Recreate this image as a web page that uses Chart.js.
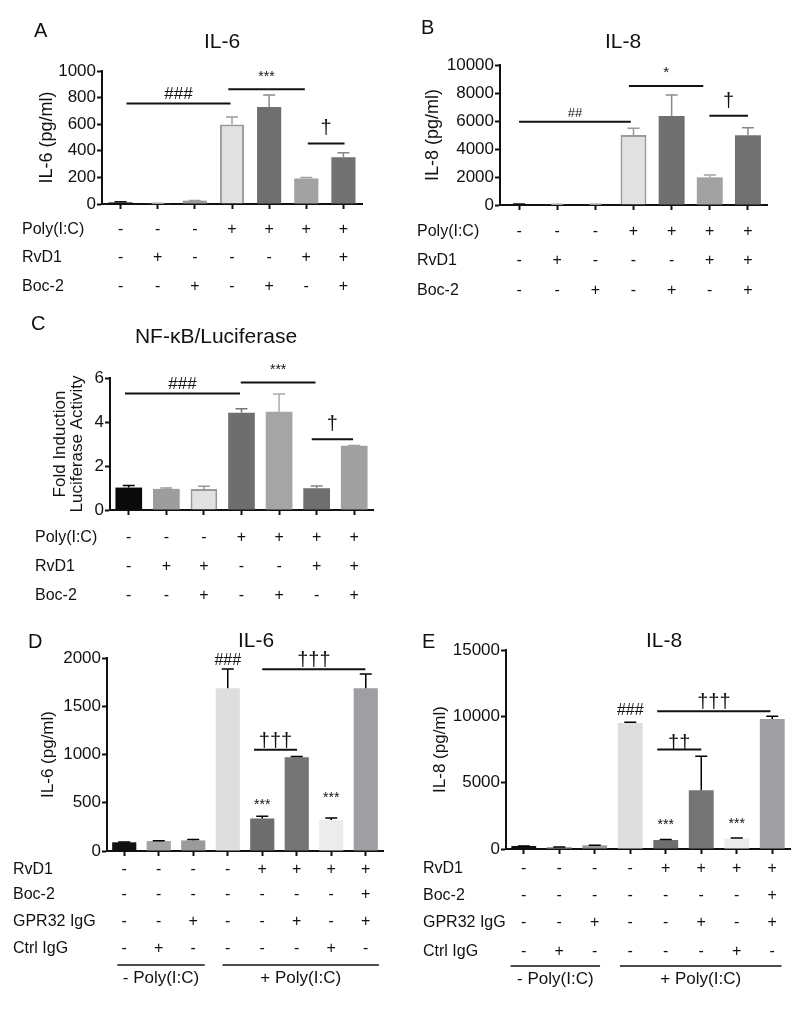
<!DOCTYPE html>
<html>
<head>
<meta charset="utf-8">
<script src="https://cdn.jsdelivr.net/npm/chart.js@4.4.1/dist/chart.umd.min.js"></script>
<style>
  body { margin: 0; background: #fff; }
  #page { position: relative; width: 800px; height: 1011px; }
  .panel { position: absolute; }
</style>
</head>
<body>
<div id="page"></div>
<script>
const FONT = '"Liberation Sans", Arial, Helvetica, sans-serif';

// --- data ---
const groups7 = ['1', '2', '3', '4', '5', '6', '7'];
const groups8 = ['1', '2', '3', '4', '5', '6', '7', '8'];

const il6A = [12, 5, 25, 597, 730, 192, 352];
const il6AErr = [17, 6, 27, 655, 820, 200, 385];
const il8B = [70, 40, 40, 5000, 6357, 1976, 4976];
const il8BErr = [80, 45, 45, 5476, 7857, 2143, 5524];
const nfkbC = [1.02, 0.96, 0.96, 4.42, 4.47, 0.99, 2.92];
const nfkbCErr = [1.11, 1.0, 1.08, 4.6, 5.27, 1.09, 2.93];
const il6D = [90, 103, 110, 1687, 337, 971, 320, 1687];
const il6DErr = [92, 106, 120, 1886, 361, 978, 341, 1835];
const il8E = [225, 150, 275, 9500, 675, 4425, 800, 9800];
const il8EErr = [235, 160, 290, 9550, 725, 7000, 825, 10000];

const yTicksA = [0, 200, 400, 600, 800, 1000];
const yTicksB = [0, 2000, 4000, 6000, 8000, 10000];
const yTicksC = [0, 2, 4, 6];
const yTicksD = [0, 500, 1000, 1500, 2000];
const yTicksE = [0, 5000, 10000, 15000];

// treatment tables under the bars
const rowLabelsABC = ['Poly(I:C)', 'RvD1', 'Boc-2'];
const rowsAB = [
  ['-', '-', '-', '+', '+', '+', '+'],
  ['-', '+', '-', '-', '-', '+', '+'],
  ['-', '-', '+', '-', '+', '-', '+']
];
const rowsC = [
  ['-', '-', '-', '+', '+', '+', '+'],
  ['-', '+', '+', '-', '-', '+', '+'],
  ['-', '-', '+', '-', '+', '-', '+']
];
const rowLabelsDE = ['RvD1', 'Boc-2', 'GPR32 IgG', 'Ctrl IgG'];
const rowsDE = [
  ['-', '-', '-', '-', '+', '+', '+', '+'],
  ['-', '-', '-', '-', '-', '-', '-', '+'],
  ['-', '-', '+', '-', '-', '+', '-', '+'],
  ['-', '+', '-', '-', '-', '-', '+', '-']
];
const polyGroupLabels = ['- Poly(I:C)', '+ Poly(I:C)'];
const polyGroupsD = [[-0.2, 2.33], [2.85, 7.38]];
const polyGroupsE = [[-0.37, 2.15], [2.71, 7.26]];

// significance bars (category index range, y in data units)
const sigA = [
  { text: '###', from: 0.16, to: 2.96, y: 755 },
  { text: '***', from: 2.9, to: 4.96, y: 862 },
  { text: '†', from: 5.04, to: 6.03, y: 455 }
];
const sigB = [
  { text: '##', from: 0, to: 2.93, y: 5952 },
  { text: '*', from: 2.88, to: 4.83, y: 8500 },
  { text: '†', from: 4.99, to: 6.0, y: 6381 }
];
const sigC = [
  { text: '###', from: -0.1, to: 2.96, y: 5.29 },
  { text: '***', from: 2.98, to: 4.97, y: 5.8 },
  { text: '†', from: 4.87, to: 5.97, y: 3.22 }
];
const sigD = [
  { text: '†††', from: 4.0, to: 6.99, y: 1883 },
  { text: '†††', from: 3.76, to: 5.01, y: 1050 }
];
const marksD = [
  { text: '###', at: 3, y: 1927 },
  { text: '***', at: 4, y: 435 },
  { text: '***', at: 6, y: 508 }
];
const sigE = [
  { text: '†††', from: 3.76, to: 6.95, y: 10375 },
  { text: '††', from: 3.76, to: 5.0, y: 7500 }
];
const marksE = [
  { text: '###', at: 3, y: 10100 },
  { text: '***', at: 4, y: 1507 },
  { text: '***', at: 6, y: 1550 }
];

// --- styles ---
const fillAB = ['#141414', '#a6a6a6', '#9b9b9b', '#e1e1e1', '#6f6f6f', '#a2a2a2', '#717171'];
const lineAB = ['#141414', '#a6a6a6', '#9b9b9b', '#9a9a9a', '#6f6f6f', '#a2a2a2', '#717171'];
const errAB = ['#141414', '#a6a6a6', '#9b9b9b', '#9a9a9a', '#8a8a8a', '#a2a2a2', '#888888'];
const bwAB = [0, 0, 0, 2, 0, 0, 0];
const fillC = ['#0a0a0a', '#9d9d9d', '#e1e1e1', '#6e6e6e', '#a5a5a5', '#6f6f6f', '#a0a0a0'];
const lineC = ['#0a0a0a', '#9d9d9d', '#999999', '#6e6e6e', '#a5a5a5', '#6f6f6f', '#a0a0a0'];
const errC = ['#000000', '#999999', '#999999', '#777777', '#aaaaaa', '#888888', '#a0a0a0'];
const bwC = [0, 0, 2, 0, 0, 0, 0];
const fillDE = ['#111111', '#a3a3a3', '#9a9a9a', '#dedede', '#6e6e6e', '#747474', '#ececec', '#9e9ea3'];
const errDE = Array(8).fill('#000000');
const bwDE = Array(8).fill(0);

const symStyleABC = {
  '###': { size: 17, gap: 5 }, '##': { size: 13, gap: 5 },
  '***': { size: 14, gap: 8 }, '*': { size: 15, gap: 9 }, '†': { size: 20, gap: 9 }
};
const symStyleDE = {
  '###': { size: 16, gap: 0 }, '***': { size: 14, gap: 0 },
  '†††': { size: 20, gap: 3 }, '††': { size: 20, gap: 1 }
};

function font(size) { return size + 'px ' + FONT; }

function makePanel(p) {
  const box = document.createElement('div');
  box.className = 'panel';
  box.style.left = p.box.x + 'px';
  box.style.top = p.box.y + 'px';
  box.style.width = p.box.w + 'px';
  box.style.height = p.box.h + 'px';
  const cv = document.createElement('canvas');
  box.appendChild(cv);
  document.getElementById('page').appendChild(box);

  const lh = p.yTitleSize * p.yTitleLine;
  const padLeft = p.yTitleX - p.box.x - lh / 2;
  const yWidth = p.area.L - p.box.x - padLeft;
  const xHeight = 6;

  const overlay = {
    id: 'overlay',
    afterDatasetsDraw(chart) {
      const ctx = chart.ctx, ys = chart.scales.y;
      ctx.save();
      ctx.lineWidth = 1.5;
      chart.getDatasetMeta(0).data.forEach((bar, i) => {
        const top = ys.getPixelForValue(p.values[i]);
        const end = ys.getPixelForValue(p.errors[i]);
        ctx.strokeStyle = p.errColors[i];
        ctx.beginPath();
        ctx.moveTo(bar.x, top);
        ctx.lineTo(bar.x, end);
        ctx.moveTo(bar.x - 6, end);
        ctx.lineTo(bar.x + 6, end);
        ctx.stroke();
      });
      ctx.restore();
    },
    afterDraw(chart) {
      const ctx = chart.ctx, xs = chart.scales.x, ys = chart.scales.y;
      const bottom = chart.chartArea.bottom;
      ctx.save();
      ctx.fillStyle = '#111';
      ctx.strokeStyle = '#111';

      // panel letter and title
      ctx.textBaseline = 'alphabetic';
      ctx.textAlign = 'left';
      ctx.font = font(20);
      ctx.fillText(p.letter, p.letterPos[0] - p.box.x, p.letterPos[1] - p.box.y);
      ctx.textAlign = 'center';
      ctx.font = font(21);
      ctx.fillText(p.title, p.titlePos[0] - p.box.x, p.titlePos[1] - p.box.y);

      // significance lines
      ctx.lineWidth = 2;
      p.sig.forEach(s => {
        const x0 = xs.getPixelForValue(s.from), x1 = xs.getPixelForValue(s.to);
        const y = ys.getPixelForValue(s.y);
        ctx.beginPath();
        ctx.moveTo(x0, y);
        ctx.lineTo(x1, y);
        ctx.stroke();
        const st = p.symStyle[s.text];
        ctx.font = font(st.size);
        ctx.fillText(s.text, (x0 + x1) / 2, y - st.gap);
      });
      (p.marks || []).forEach(m => {
        const st = p.symStyle[m.text];
        ctx.font = font(st.size);
        ctx.fillText(m.text, xs.getPixelForValue(m.at), ys.getPixelForValue(m.y));
      });

      // treatment table
      ctx.font = font(16);
      ctx.textBaseline = 'middle';
      p.rowLabels.forEach((label, r) => {
        const y = bottom + p.rowOffsets[r];
        ctx.textAlign = 'left';
        ctx.fillText(label, p.rowLabelX - p.box.x, y);
        ctx.textAlign = 'center';
        p.rows[r].forEach((sym, i) => ctx.fillText(sym, xs.getPixelForValue(i), y));
      });

      // - / + Poly(I:C) brackets
      if (p.groups) {
        ctx.lineWidth = 1.5;
        ctx.font = font(17);
        p.groups.forEach((g, k) => {
          const x0 = xs.getPixelForValue(g[0]), x1 = xs.getPixelForValue(g[1]);
          const y = bottom + p.groupLine;
          ctx.beginPath();
          ctx.moveTo(x0, y);
          ctx.lineTo(x1, y);
          ctx.stroke();
          ctx.fillText(polyGroupLabels[k], (x0 + x1) / 2, bottom + p.groupText);
        });
      }
      ctx.restore();
    }
  };

  return new Chart(cv, {
    type: 'bar',
    data: {
      labels: p.labels,
      datasets: [{
        data: p.values,
        backgroundColor: p.fill,
        borderColor: p.line || p.fill,
        borderWidth: p.bw,
        barPercentage: p.barPct,
        categoryPercentage: 1
      }]
    },
    options: {
      responsive: true,
      maintainAspectRatio: false,
      animation: false,
      devicePixelRatio: 1,
      layout: {
        padding: {
          left: padLeft,
          top: p.area.T - p.box.y,
          right: p.box.x + p.box.w - p.area.R,
          bottom: p.box.y + p.box.h - p.area.B - xHeight
        }
      },
      plugins: { legend: { display: false }, tooltip: { enabled: false } },
      scales: {
        x: {
          offset: true,
          afterFit: s => { s.height = xHeight; },
          border: { color: '#111', width: 2 },
          grid: { offset: false, drawOnChartArea: false, tickLength: 5, tickColor: '#111', tickWidth: 2 },
          ticks: { display: false }
        },
        y: {
          min: 0,
          max: p.yTicks[p.yTicks.length - 1],
          afterBuildTicks: s => { s.ticks = p.yTicks.map(v => ({ value: v })); },
          afterFit: s => { s.width = yWidth; },
          border: { color: '#111', width: 2 },
          grid: { drawOnChartArea: false, tickLength: 5, tickColor: '#111', tickWidth: 2 },
          ticks: { color: '#111', font: { size: 17, family: FONT }, padding: 1, callback: v => String(v) },
          title: {
            display: true,
            text: p.yTitle,
            color: '#111',
            padding: 0,
            font: { size: p.yTitleSize, family: FONT, lineHeight: p.yTitleLine }
          }
        }
      }
    },
    plugins: [overlay]
  });
}

makePanel({
  box: { x: 0, y: 0, w: 400, h: 305 }, area: { L: 102, T: 71, R: 362, B: 204 },
  labels: groups7, values: il6A, errors: il6AErr, yTicks: yTicksA,
  fill: fillAB, line: lineAB, bw: bwAB, errColors: errAB, barPct: 0.65,
  yTitle: 'IL-6 (pg/ml)', yTitleSize: 18, yTitleLine: 1.1, yTitleX: 47,
  letter: 'A', letterPos: [34, 37], title: 'IL-6', titlePos: [222, 48],
  sig: sigA, symStyle: symStyleABC,
  rowLabels: rowLabelsABC, rows: rowsAB, rowLabelX: 22, rowOffsets: [26, 54, 83]
});

makePanel({
  box: { x: 400, y: 0, w: 400, h: 305 }, area: { L: 500, T: 65, R: 767, B: 205 },
  labels: groups7, values: il8B, errors: il8BErr, yTicks: yTicksB,
  fill: fillAB, line: lineAB, bw: bwAB, errColors: errAB, barPct: 0.68,
  yTitle: 'IL-8 (pg/ml)', yTitleSize: 18, yTitleLine: 1.1, yTitleX: 433,
  letter: 'B', letterPos: [421, 34], title: 'IL-8', titlePos: [623, 48],
  sig: sigB, symStyle: symStyleABC,
  rowLabels: rowLabelsABC, rows: rowsAB, rowLabelX: 417, rowOffsets: [27, 56, 86]
});

makePanel({
  box: { x: 0, y: 310, w: 400, h: 300 }, area: { L: 110, T: 378, R: 373, B: 510 },
  labels: groups7, values: nfkbC, errors: nfkbCErr, yTicks: yTicksC,
  fill: fillC, line: lineC, bw: bwC, errColors: errC, barPct: 0.71,
  yTitle: ['Fold Induction', 'Luciferase Activity'], yTitleSize: 17, yTitleLine: 1.0, yTitleX: 60,
  letter: 'C', letterPos: [31, 330], title: 'NF-κB/Luciferase', titlePos: [216, 343],
  sig: sigC, symStyle: symStyleABC,
  rowLabels: rowLabelsABC, rows: rowsC, rowLabelX: 35, rowOffsets: [28, 57, 86]
});

makePanel({
  box: { x: 0, y: 610, w: 400, h: 401 }, area: { L: 107, T: 658, R: 383, B: 851 },
  labels: groups8, values: il6D, errors: il6DErr, yTicks: yTicksD,
  fill: fillDE, bw: bwDE, errColors: errDE, barPct: 0.7,
  yTitle: 'IL-6 (pg/ml)', yTitleSize: 17, yTitleLine: 1.1, yTitleX: 48,
  letter: 'D', letterPos: [28, 648], title: 'IL-6', titlePos: [256, 647],
  sig: sigD, marks: marksD, symStyle: symStyleDE,
  rowLabels: rowLabelsDE, rows: rowsDE, rowLabelX: 13, rowOffsets: [19, 44, 71, 98],
  groups: polyGroupsD, groupLine: 114, groupText: 127
});

makePanel({
  box: { x: 400, y: 610, w: 400, h: 401 }, area: { L: 506, T: 650, R: 790, B: 849 },
  labels: groups8, values: il8E, errors: il8EErr, yTicks: yTicksE,
  fill: fillDE, bw: bwDE, errColors: errDE, barPct: 0.7,
  yTitle: 'IL-8 (pg/ml)', yTitleSize: 17, yTitleLine: 1.1, yTitleX: 440,
  letter: 'E', letterPos: [422, 648], title: 'IL-8', titlePos: [664, 647],
  sig: sigE, marks: marksE, symStyle: symStyleDE,
  rowLabels: rowLabelsDE, rows: rowsDE, rowLabelX: 423, rowOffsets: [20, 47, 74, 103],
  groups: polyGroupsE, groupLine: 117, groupText: 130
});
</script>
</body>
</html>
